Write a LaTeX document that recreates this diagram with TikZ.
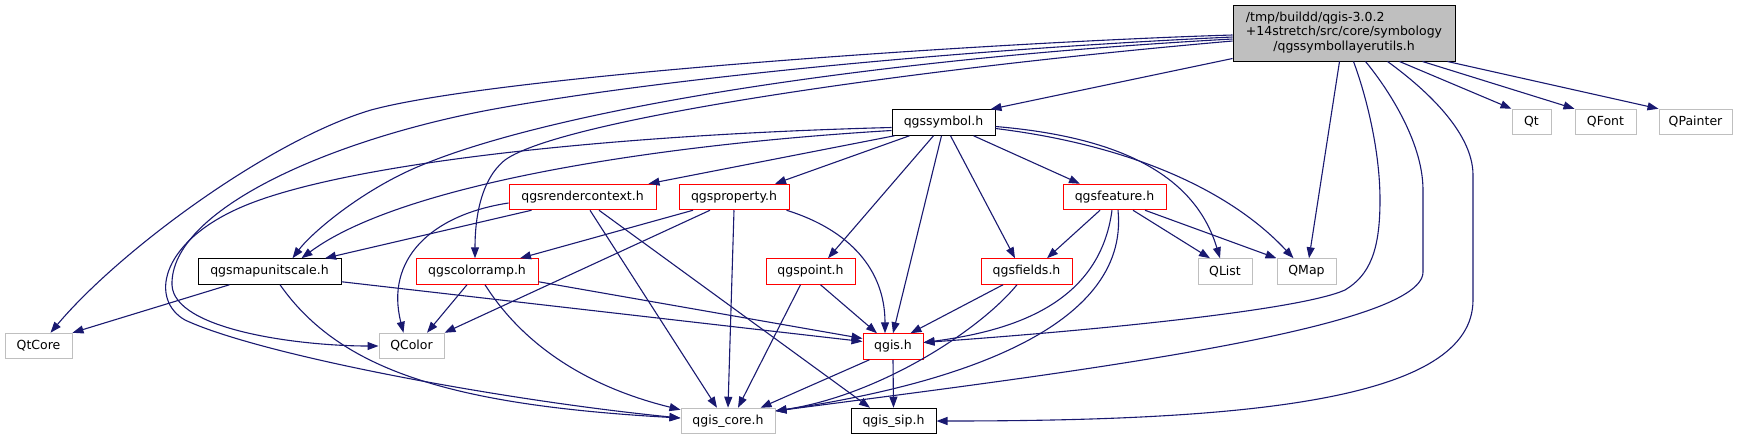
\documentclass[tikz,border=0pt]{standalone}
\usepackage{fontspec}
\setmainfont{DejaVu Sans}
\usetikzlibrary{arrows.meta,calc}
\definecolor{mblue}{HTML}{191970}
\definecolor{lgray}{HTML}{BFBFBF}
\begin{document}
\begin{tikzpicture}[x=1pt,y=-1pt,
  box/.style={rectangle, inner sep=0pt, line width=1pt, font=\fontsize{12.5}{14.5}\selectfont, minimum height=25.5pt},
  blk/.style={box, draw=black},
  redb/.style={box, draw=red},
  gry/.style={box, draw=lgray},
  dep/.style={draw=mblue, line width=1.1pt, -{Triangle[length=11pt,width=8pt]}}
]
\useasboundingbox (0,0) rectangle (1741,440);

% nodes
\node[box, draw=black, fill=lgray, minimum width=222pt, minimum height=56pt] (root) at (1344,33)
  {\begin{tabular}{@{}l@{}}/tmp/buildd/qgis-3.0.2\\+14stretch/src/core/symbology\\\multicolumn{1}{@{}c@{}}{/qgssymbollayerutils.h}\end{tabular}};
\node[blk, minimum width=103pt] (qgssymbol) at (943.5,122.5) {qgssymbol.h};
\node[gry, minimum width=39pt] (Qt) at (1531.5,122) {Qt};
\node[gry, minimum width=61pt] (QFont) at (1605.5,122) {QFont};
\node[gry, minimum width=73pt] (QPainter) at (1695.5,122) {QPainter};
\node[redb, minimum width=147pt] (qgsrendercontext) at (582.5,197) {qgsrendercontext.h};
\node[redb, minimum width=110pt] (qgsproperty) at (734,197) {qgsproperty.h};
\node[redb, minimum width=103pt] (qgsfeature) at (1114.5,197) {qgsfeature.h};
\node[blk, minimum width=143pt] (qgsmapunitscale) at (269.5,271.5) {qgsmapunitscale.h};
\node[redb, minimum width=122pt] (qgscolorramp) at (477,271.5) {qgscolorramp.h};
\node[redb, minimum width=89pt] (qgspoint) at (810.5,271.5) {qgspoint.h};
\node[redb, minimum width=91pt] (qgsfields) at (1026.5,271.5) {qgsfields.h};
\node[gry, minimum width=54pt] (QList) at (1225,271.5) {QList};
\node[gry, minimum width=59pt] (QMap) at (1306.5,271.5) {QMap};
\node[gry, minimum width=67pt] (QtCore) at (38.5,346) {QtCore};
\node[gry, minimum width=65pt] (QColor) at (411.5,346) {QColor};
\node[redb, minimum width=60pt] (qgish) at (893,346.5) {qgis.h};
\node[gry, minimum width=94pt] (qgiscore) at (728,421) {qgis\_core.h};
\node[blk, minimum width=85pt] (qgissip) at (893.5,421) {qgis\_sip.h};

% edges from root
\draw[dep] ($(root.south west)+(0,-3)$) -- ($(qgssymbol.north east)+(-5,0)$);
\draw[dep] ($(root.south west)+(167,0)$) -- (Qt.north west);
\draw[dep] ($(root.south west)+(190,0)$) -- (QFont.north west);
\draw[dep] ($(root.south west)+(215,0)$) -- (QPainter.north west);
\draw[dep] ($(root.south west)+(107,0)$) -- ($(QMap.north)+(2.5,0)$);
\draw[dep] ($(root.south west)+(121,0)$) .. controls (1366,95) and (1380,150) .. (1380,200)
  .. controls (1380,250) and (1370,275) .. (1345,290)
  .. controls (1300,310) and (1100,330) .. ($(qgish.east)+(0,-4)$);
\draw[dep] ($(root.south west)+(133,0)$) .. controls (1385,85) and (1423,140) .. (1423,190)
  -- (1423,272) .. controls (1423,330) and (1050,375) .. ($(qgiscore.east)+(0,-10)$);
\draw[dep] ($(root.south west)+(155,0)$) .. controls (1420,85) and (1473,130) .. (1473,175)
  -- (1473,300) .. controls (1473,400) and (1250,421) .. (qgissip.east);
\draw[dep] ($(root.west)+(0,2)$) .. controls (1000,42) and (500,75) .. (371,110)
  .. controls (270,140) and (120,250) .. ($(QtCore.north)+(12,0)$);
\draw[dep] ($(root.west)+(0,4)$) .. controls (950,50) and (650,80) .. (489,110)
  .. controls (330,140) and (170,210) .. (172,285)
  .. controls (174,330) and (300,346) .. (QColor.west);
\draw[dep] ($(root.west)+(0,6)$) .. controls (850,60) and (520,115) .. (400,175)
  .. controls (350,200) and (310,235) .. ($(qgsmapunitscale.north)+(23,0)$);
\draw[dep] ($(root.west)+(0,8)$) .. controls (900,70) and (560,120) .. (505,160)
  .. controls (480,180) and (475,220) .. ($(qgscolorramp.north)+(-2,0)$);

% edges from qgssymbol
\draw[dep] ($(qgssymbol.west)+(0,5)$) .. controls (600,135) and (330,165) .. (235,210)
  .. controls (160,245) and (150,300) .. (185,320)
  .. controls (260,355) and (500,400) .. ($(qgiscore.west)+(0,-3)$);
\draw[dep] ($(qgssymbol.west)+(0,8)$) .. controls (650,145) and (400,185) .. ($(qgsmapunitscale.north)+(32,0)$);
\draw[dep] ($(qgssymbol.south west)+(3,0)$) -- ($(qgsrendercontext.north east)+(-8,0)$);
\draw[dep] ($(qgssymbol.south west)+(18,0)$) -- ($(qgsproperty.north)+(41,0)$);
\draw[dep] ($(qgssymbol.south)+(-10,0)$) -- ($(qgspoint.north)+(17.5,0)$);
\draw[dep] ($(qgssymbol.south)+(-2,0)$) -- (qgish.north);
\draw[dep] ($(qgssymbol.south)+(7,0)$) -- ($(qgsfields.north)+(-11.5,0)$);
\draw[dep] ($(qgssymbol.south)+(30,0)$) -- ($(qgsfeature.north)+(-34.5,0)$);
\draw[dep] ($(qgssymbol.east)+(0,4)$) .. controls (1120,137) and (1195,175) .. ($(QList.north)+(-5,0)$);
\draw[dep] ($(qgssymbol.east)+(0,6)$) .. controls (1130,145) and (1230,190) .. ($(QMap.north)+(-13,0)$);

% edges from qgsfeature
\draw[dep] ($(qgsfeature.south)+(-14.5,0)$) -- ($(qgsfields.north)+(20.5,0)$);
\draw[dep] ($(qgsfeature.south)+(18.5,0)$) -- ($(QList.north)+(-15,0)$);
\draw[dep] ($(qgsfeature.south)+(30.5,0)$) -- (QMap.north west);
\draw[dep] ($(qgsfeature.south)+(-2.5,0)$) .. controls (1100,300) and (1020,330) .. ($(qgish.east)+(0,-4)$);
\draw[dep] ($(qgsfeature.south)+(3.5,0)$) .. controls (1130,330) and (950,385) .. ($(qgiscore.east)+(0,-10)$);

% edges from qgsfields
\draw[dep] ($(qgsfields.south)+(-23.5,0)$) -- ($(qgish.north east)+(-13,0)$);
\draw[dep] ($(qgsfields.south)+(-9.5,0)$) .. controls (980,330) and (880,395) .. ($(qgiscore.east)+(0,-10)$);

% edges from qgspoint
\draw[dep] ($(qgspoint.south)+(10,0)$) -- ($(qgish.north)+(-16,0)$);
\draw[dep] ($(qgspoint.south)+(-10,0)$) -- ($(qgiscore.north)+(10,0)$);

% edges from qgsproperty
\draw[dep] ($(qgsproperty.south east)+(-3,0)$) .. controls (850,230) and (885,270) .. ($(qgish.north)+(-8,0)$);
\draw[dep] (qgsproperty.south) -- (qgiscore.north);
\draw[dep] ($(qgsproperty.south)+(-41,0)$) -- ($(qgscolorramp.north)+(43,0)$);
\draw[dep] ($(qgsproperty.south)+(-24,0)$) -- (QColor.north east);

% edges from qgsrendercontext
\draw[dep] ($(qgsrendercontext.south west)+(23,0)$) -- ($(qgsmapunitscale.north)+(55.5,0)$);
\draw[dep] ($(qgsrendercontext.west)+(0,6)$) .. controls (430,215) and (385,260) .. ($(QColor.north)+(-8,0)$);
\draw[dep] ($(qgsrendercontext.south)+(7.5,0)$) -- ($(qgiscore.north)+(-11,0)$);
\draw[dep] ($(qgsrendercontext.south)+(16.5,0)$) -- ($(qgissip.north)+(-23.5,0)$);

% edges from qgscolorramp
\draw[dep] ($(qgscolorramp.south)+(-10,0)$) -- ($(QColor.north)+(15.5,0)$);
\draw[dep] ($(qgscolorramp.south east)+(0,-3)$) -- ($(qgish.west)+(0,-8)$);
\draw[dep] ($(qgscolorramp.south)+(8,0)$) .. controls (520,340) and (580,385) .. ($(qgiscore.north west)+(0,2)$);

% edges from qgsmapunitscale
\draw[dep] ($(qgsmapunitscale.south west)+(32,0)$) -- (QtCore.north east);
\draw[dep] ($(qgsmapunitscale.south east)+(0,-3)$) -- ($(qgish.west)+(0,-5)$);
\draw[dep] ($(qgsmapunitscale.south)+(10.5,0)$) .. controls (340,370) and (450,405) .. ($(qgiscore.west)+(0,-3)$);

% edges from qgis.h
\draw[dep] ($(qgish.south west)+(7,0)$) -- ($(qgiscore.north east)+(-15,0)$);
\draw[dep] (qgish.south) -- (qgissip.north);
\end{tikzpicture}
\end{document}
